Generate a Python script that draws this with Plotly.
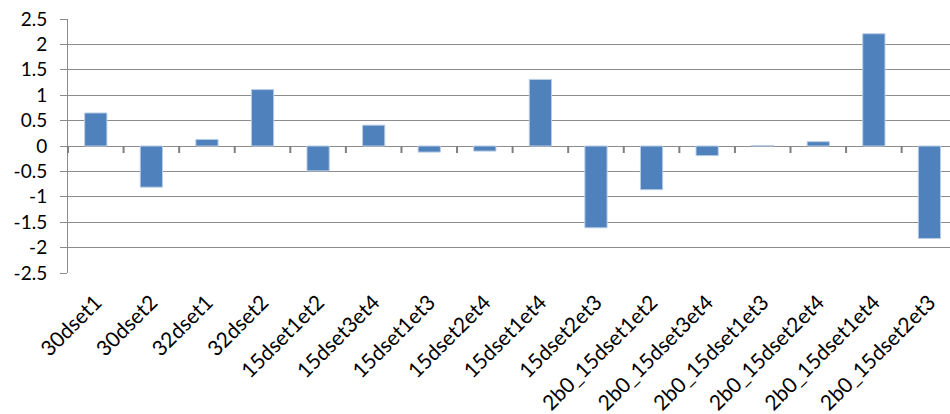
import plotly.graph_objects as go

# category labels and values
categories = [
    "30dset1", "30dset2", "32dset1", "32dset2",
    "15dset1et2", "15dset3et4", "15dset1et3", "15dset2et4",
    "15dset1et4", "15dset2et3",
    "2b0_15dset1et2", "2b0_15dset3et4", "2b0_15dset1et3",
    "2b0_15dset2et4", "2b0_15dset1et4", "2b0_15dset2et3",
]
values = [0.65, -0.81, 0.13, 1.11, -0.49, 0.41, -0.12, -0.10,
          1.31, -1.61, -0.86, -0.19, 0.01, 0.085, 2.21, -1.82]
y_ticks = [-2.5, -2, -1.5, -1, -0.5, 0, 0.5, 1, 1.5, 2, 2.5]

grid = "#8c8c8c"
family = "Lato, 'Open Sans', sans-serif"
x_font = dict(family=family, size=21, color="#000000")
y_font = dict(family=family, size=19, color="#000000")

W, H = 950, 414
margin = dict(l=68, r=0, t=19, b=141)
x_range = [-0.5, 15.37]  # cut a little on the right, like the cropped original
y_range = [-2.5, 2.5]

fig = go.Figure()
fig.add_trace(go.Bar(
    x=categories, y=values,
    marker=dict(color="#4f81bd", line=dict(color="#b9cde5", width=1)),
))

# small category-boundary ticks hanging under the zero line
plot_h = H - margin["t"] - margin["b"]
zero_frac = (0 - y_range[0]) / (y_range[1] - y_range[0])
for i in range(len(categories) + 1):
    fx = (i - 0.5 - x_range[0]) / (x_range[1] - x_range[0])
    if fx > 1:
        continue
    fig.add_shape(
        type="line", xref="x domain", yref="y domain",
        x0=fx, x1=fx, y0=zero_frac, y1=zero_frac - 7 / plot_h,
        line=dict(color="#7f7f7f", width=2), layer="above",
    )

fig.update_layout(
    width=W, height=H, margin=margin,
    paper_bgcolor="white", plot_bgcolor="white",
    bargap=0.6, showlegend=False,
    xaxis=dict(
        type="category", range=x_range, tickangle=-45, automargin=False,
        showgrid=False, showline=False, ticks="", tickfont=x_font,
        ticklabelstandoff=12,
    ),
    yaxis=dict(
        range=y_range, tickmode="array", tickvals=y_ticks,
        ticktext=[f"{v:g}" for v in y_ticks], automargin=False,
        showgrid=True, gridcolor=grid, gridwidth=1, zeroline=False,
        showline=True, linecolor=grid, linewidth=1,
        ticks="outside", ticklen=7, tickcolor=grid,
        ticklabelstandoff=9, tickfont=y_font,
    ),
)

# drop the default 8px page margin so the chart sits flush like the original
fig.write_html(
    "out.html",
    config={"displayModeBar": False},
    post_script="document.body.style.margin='0';",
)
